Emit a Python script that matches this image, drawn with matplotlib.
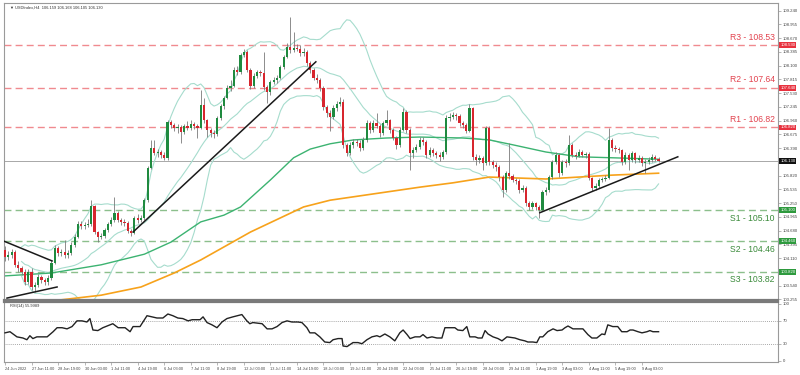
import matplotlib
matplotlib.use("Agg")
import matplotlib.pyplot as plt
import numpy as np
import pandas as pd
from matplotlib.transforms import blended_transform_factory

# ---------------- data ----------------
first_open = 104.28
closes = [104.13,104.17,104.24,103.97,103.90,103.82,103.61,103.82,103.51,103.55,
103.72,103.65,103.61,103.70,104.01,104.32,104.21,104.24,104.17,104.21,
104.38,104.55,104.82,104.78,104.80,104.82,105.19,104.65,104.55,104.57,
104.69,104.82,104.90,105.05,104.90,104.86,104.84,104.67,104.63,104.94,
104.90,104.94,105.31,105.98,106.39,106.29,106.31,106.25,106.19,106.93,
106.87,106.81,106.83,106.73,106.85,106.81,106.89,106.85,106.81,107.29,
106.97,106.77,106.70,106.68,107.02,107.26,107.43,107.64,107.68,108.01,
107.97,108.32,108.38,108.01,107.68,107.89,107.97,107.95,107.66,107.55,
107.76,107.80,107.85,108.07,108.28,108.49,108.43,108.47,108.45,108.36,
108.38,108.16,108.01,107.85,107.80,107.64,107.24,107.12,107.04,107.22,
107.31,107.35,106.46,106.29,106.46,106.52,106.50,106.39,106.56,106.91,
106.77,106.91,106.85,106.70,106.91,106.97,106.77,106.60,106.46,106.77,
107.14,106.77,106.29,106.35,106.41,106.56,106.52,106.25,106.35,106.29,
106.25,106.21,106.31,107.02,107.04,107.08,107.06,106.91,106.87,106.75,
107.22,106.21,106.14,106.19,106.08,106.81,106.10,106.04,106.00,105.79,
105.52,105.87,105.81,105.73,105.71,105.52,105.56,105.25,105.17,105.25,
105.17,105.11,105.48,105.52,105.79,106.10,106.25,105.87,106.10,106.08,
106.46,106.25,106.23,106.31,106.25,106.27,105.77,105.56,105.60,105.73,
105.75,105.77,106.56,106.39,106.37,106.35,106.10,106.25,106.14,106.29,
106.14,106.19,106.08,106.10,106.14,106.21,106.16,106.13]

highs = [104.35,104.25,104.30,104.28,104.05,103.95,103.88,103.88,103.90,103.62,
103.78,103.76,103.70,103.75,104.06,104.38,104.36,104.30,104.48,104.28,
104.45,104.60,104.88,104.88,104.86,104.92,105.31,105.22,104.68,104.64,
104.74,104.86,104.96,105.38,105.08,104.95,104.92,104.88,104.72,104.99,
105.02,105.00,105.36,106.02,106.55,106.55,106.38,106.36,106.30,106.98,
106.98,106.92,106.90,106.88,106.90,106.95,106.98,106.93,106.90,107.60,
107.42,107.00,106.80,106.76,107.06,107.30,107.48,107.70,107.80,108.08,
108.10,108.36,108.45,108.42,108.05,107.94,108.02,108.02,108.38,107.70,
107.80,107.86,107.90,108.12,108.33,108.58,109.11,108.80,108.55,108.52,
108.46,108.42,108.20,108.05,107.92,107.84,107.68,107.28,107.18,107.28,
107.36,107.45,107.40,106.50,106.52,106.58,106.58,106.55,106.62,106.98,
106.95,106.98,107.12,106.90,106.96,107.18,107.00,106.80,106.64,106.82,
107.22,107.18,106.80,106.42,106.48,106.62,106.62,106.56,106.42,106.40,
106.34,106.30,106.36,107.08,107.12,107.14,107.12,107.10,106.95,106.92,
107.30,107.25,106.26,106.25,106.22,106.85,106.84,106.15,106.10,106.04,
105.84,105.92,106.50,105.86,105.78,105.75,105.62,105.60,105.30,105.30,
105.28,105.22,105.52,105.58,105.84,106.15,106.32,106.28,106.15,106.16,
106.67,106.50,106.30,106.38,106.35,106.32,106.30,105.80,105.66,105.78,
105.80,105.84,106.81,106.60,106.46,106.42,106.38,106.30,106.28,106.34,
106.32,106.24,106.22,106.16,106.20,106.26,106.25,106.20]

lows = [104.05,104.08,104.12,103.92,103.82,103.76,103.55,103.57,103.45,103.41,
103.50,103.60,103.55,103.56,103.66,103.98,104.16,104.15,104.12,104.12,
104.18,104.33,104.52,104.72,104.72,104.75,104.78,104.60,104.45,104.50,
104.53,104.66,104.78,104.86,104.85,104.80,104.78,104.62,104.56,104.60,
104.84,104.86,104.90,105.28,105.95,106.24,106.20,106.18,106.14,106.15,
106.80,106.75,106.70,106.50,106.68,106.76,106.77,106.78,106.60,106.78,
106.92,106.62,106.62,106.60,106.64,106.98,107.20,107.40,107.58,107.65,
107.90,107.93,108.28,107.96,107.62,107.64,107.85,107.88,107.60,107.33,
107.50,107.72,107.75,107.82,108.03,108.25,108.36,108.38,108.40,108.30,
108.30,108.10,107.95,107.80,107.74,107.58,107.18,107.04,106.75,107.00,
107.16,107.26,106.40,106.22,106.24,106.40,106.44,106.33,106.35,106.52,
106.70,106.72,106.80,106.62,106.66,106.86,106.70,106.55,106.38,106.42,
106.74,106.70,105.94,106.18,106.30,106.38,106.45,106.18,106.20,106.22,
106.18,106.12,106.16,106.27,106.96,107.00,106.98,106.85,106.80,106.70,
106.72,106.15,106.05,106.08,105.94,106.04,106.05,105.98,105.92,105.70,
105.38,105.48,105.75,105.68,105.64,105.46,105.48,105.20,105.10,105.12,
105.10,104.94,105.08,105.42,105.48,105.75,106.06,105.80,105.84,106.00,
106.04,106.20,106.16,106.20,106.20,106.18,105.72,105.50,105.52,105.56,
105.68,105.70,105.74,106.34,106.30,106.28,106.04,106.06,105.94,106.10,
106.08,106.10,106.02,105.87,106.06,106.10,106.12,106.10]

# moving averages
ma100_i = [0, 14, 29, 42, 50, 59, 66, 71, 80, 87, 92, 98, 105, 115, 125, 138, 146, 153, 163, 173, 183, 197]
ma100_v = [103.74, 103.80, 103.97, 104.19, 104.44, 104.86, 105.00, 105.17, 105.73, 106.19, 106.37,
           106.48, 106.56, 106.60, 106.62, 106.60, 106.56, 106.46, 106.31, 106.21, 106.19, 106.16]
ma200_i = [14, 29, 41, 51, 59, 74, 90, 98, 105, 115, 125, 135, 146, 163, 173, 183, 197]
ma200_v = [103.22, 103.34, 103.51, 103.80, 104.07, 104.65, 105.17, 105.31, 105.38, 105.48, 105.58,
           105.67, 105.79, 105.75, 105.79, 105.83, 105.87]

# RSI
rsi_x = [0,1.5,3.6,5.4,6.6,7.5,8.4,9.6,12.7,14.5,15.7,17.2,18.7,20.2,21.7,23.2,24.7,25.6,26.5,28,
29.5,31.6,32.5,34.1,36.2,37.7,38.6,40.7,42.8,44.3,45.8,47.6,49.1,50.6,52.1,53.6,55.2,56.4,58.8,59.7,
60.9,62.4,63.9,65.4,66.9,68.7,71.4,72.9,73.8,74.7,77.5,79,80.5,82,83.5,85,86.5,88.3,89.5,91,
91.9,93.4,94.9,96.4,97.9,98.9,100.4,101.6,101.9,103.1,104.9,106.4,107.6,109.1,110.6,112.1,113,114.5,116,117.5,
119,120,121.2,122.1,123.6,125.1,126,127.2,128.7,130.2,131.7,132.6,134.1,135.6,136.5,138,139.2,140.1,141.7,142.6,
143.8,144.7,145.6,147.1,148.6,149.8,151.3,153.7,155.2,156.7,157.6,159.1,160.3,161.2,162.1,163.6,165.2,166.4,167.9,168.8,
169.7,171.2,172.7,174.2,175.7,176.9,178.4,179.9,180.8,181.7,183.2,184.7,185.9,187.5,188.4,189.3,190.8,192,193.5,194.4,
195.3,197]
rsi_v = [49,51,42,40,37,44,39,42,42,51,58,58,56,60,70,70,68,74,54,53,
58,63,65,58,58,51,60,60,79,77,75,75,82,79,75,74,70,72,72,77,
67,63,58,68,74,77,81,70,65,67,65,56,56,60,67,70,68,68,67,58,
49,49,42,33,32,37,39,39,26,25,32,32,30,37,42,44,42,47,42,35,
49,54,46,39,42,42,46,40,42,40,40,58,58,58,54,53,60,42,42,40,
40,53,47,42,39,35,42,40,37,35,33,33,32,42,42,51,56,53,54,58,
61,56,56,56,46,40,40,47,46,63,60,60,51,51,54,54,51,49,51,53,
51,51]

# horizontal levels
level_names = ["R3", "R2", "R1", "S1", "S2", "S3"]
level_values = [108.53, 107.64, 106.82, 105.10, 104.46, 103.82]

# drawn trend lines (start index, start price, end index, end price)
tl_x0 = [-0.3, 0.6, 38.6, 161.2]
tl_y0 = [104.46, 103.28, 104.65, 105.05]
tl_x1 = [14.2, 15.7, 93.7, 202.8]
tl_y1 = [104.05, 103.51, 108.18, 106.21]

price_ticks = [103.255, 103.540, 103.825, 104.110, 104.395, 104.680, 104.965, 105.250, 105.535,
               105.820, 106.105, 106.390, 106.675, 106.960, 107.245, 107.530, 107.815, 108.100,
               108.385, 108.670, 108.955, 109.240]
x_labels = ["24 Jun 2022", "27 Jun 11:00", "28 Jun 19:00", "30 Jun 03:00", "1 Jul 11:00",
            "4 Jul 19:00", "6 Jul 03:00", "7 Jul 11:00", "8 Jul 19:00", "12 Jul 03:00",
            "13 Jul 11:00", "14 Jul 19:00", "18 Jul 03:00", "19 Jul 11:00", "20 Jul 19:00",
            "22 Jul 03:00", "25 Jul 11:00", "26 Jul 19:00", "28 Jul 03:00", "29 Jul 11:00",
            "1 Aug 19:00", "3 Aug 03:00", "4 Aug 11:00", "5 Aug 19:00", "9 Aug 03:00"]
x_label_step = 8

# ---------------- figure ----------------
plt.rcParams['font.family'] = ['Liberation Sans', 'DejaVu Sans']
W, H = 800, 375
fig = plt.figure(figsize=(W / 100, H / 100), dpi=100)
fig.patch.set_facecolor('white')

def rect(l, t, r, b):
    return [l / W, 1 - b / H, (r - l) / W, (b - t) / H]

ax = fig.add_axes(rect(4, 3, 778, 300))
axr = fig.add_axes(rect(4, 302, 778, 362), sharex=ax)

n = len(closes)
idx = np.arange(n)
c = np.array(closes)
o = np.concatenate([[first_open], c[:-1]])
h = np.maximum(np.array(highs), np.maximum(o, c))
l = np.minimum(np.array(lows), np.minimum(o, c))

XMIN, XMAX = -0.3, 233.0
YMIN, YMAX = 103.24, 109.40
ax.set_xlim(XMIN, XMAX)
ax.set_ylim(YMIN, YMAX)

# Bollinger bands computed from closes
s = pd.Series(c)
mid = s.rolling(20, min_periods=6).mean()
sd = s.rolling(20, min_periods=6).std(ddof=0)
bb_col = '#a6dccd'
for band in (mid + 2 * sd, mid, mid - 2 * sd):
    ax.plot(idx, band, color=bb_col, lw=0.8, zorder=2)

ax.plot(ma100_i, ma100_v, color='#3cb371', lw=1.0, zorder=2)
ax.plot(ma200_i, ma200_v, color='#f7a21b', lw=1.2, zorder=2)

# levels
trans_r = blended_transform_factory(ax.transAxes, ax.transData)
for name, v in zip(level_names, level_values):
    is_r = name.startswith('R')
    lc = '#f08a8f' if is_r else '#8cbf8c'
    tc = '#e2434f' if is_r else '#3a8a3a'
    ax.axhline(v, color=lc, lw=1.0, dashes=(5, 3), zorder=1)
    ax.text(0.996, v + (0.07 if is_r else -0.07), f"{name} - {v:.2f}",
            transform=trans_r,
            ha='right', va='bottom' if is_r else 'top', fontsize=6.2, color=tc, zorder=5)

# current price line
last = closes[-1]
ax.axhline(last, color='#a8a8a8', lw=0.7, zorder=1)

# candles
up = c >= o
col = np.where(up, '#1f8a3f', '#d7262e')
ax.vlines(idx, l, h, color='#7a7a7a', lw=0.6, zorder=3)
body_h = np.maximum(np.abs(c - o), 0.012)
ax.bar(idx, body_h, bottom=np.minimum(o, c), width=0.66, color=col, lw=0, zorder=4)

# trend lines
for x0, y0, x1, y1 in zip(tl_x0, tl_y0, tl_x1, tl_y1):
    ax.plot([x0, x1], [y0, y1], color='#1a1a1a', lw=1.1, zorder=5)

# axes styling
for a in (ax, axr):
    a.set_facecolor('white')
    for sp in a.spines.values():
        sp.set_color('#9a9a9a')
        sp.set_linewidth(0.8)
ax.spines['bottom'].set_linewidth(1.6)
ax.spines['bottom'].set_color('#7a7a7a')
axr.spines['top'].set_linewidth(1.6)
axr.spines['top'].set_color('#7a7a7a')

TICK_FS = 3.1
box_values = level_values + [last]
ax.yaxis.tick_right()
ax.set_yticks(price_ticks)
ax.set_yticklabels([("" if min(abs(t - b) for b in box_values) < 0.04 else f"{t:.3f}")
                    for t in price_ticks])
ax.tick_params(axis='y', labelsize=TICK_FS, length=2, width=0.5, colors='#9a9a9a',
               labelcolor='#444444', pad=1.5)
ax.tick_params(axis='x', bottom=False, labelbottom=False)

for name, v in zip(level_names, level_values):
    bg = '#e8323f' if name.startswith('R') else '#2e9a3e'
    ax.text(1.003, v, f"{v:.3f}", transform=trans_r, ha='left', va='center', fontsize=TICK_FS,
            color='white', bbox=dict(boxstyle='square,pad=0.2', fc=bg, ec='none'),
            zorder=6, clip_on=False)
ax.text(1.003, last, f"{last:.3f}", transform=trans_r, ha='left', va='center', fontsize=TICK_FS,
        color='white', bbox=dict(boxstyle='square,pad=0.2', fc='#111111', ec='none'),
        zorder=6, clip_on=False)

ax.text(0.008, 0.99, "\u25BC USDIndex,H4  106.159 106.168 106.105 106.130", transform=ax.transAxes,
        ha='left', va='top', fontsize=2.9, color='#333333')

# RSI panel
axr.set_ylim(-2, 103)
axr.plot(rsi_x, rsi_v, color='#222222', lw=1.0, zorder=3)
for lv in (70, 30):
    axr.axhline(lv, color='#8a8a8a', lw=0.6, ls=(0, (1, 1.5)), zorder=1)
axr.yaxis.tick_right()
axr.set_yticks([0, 30, 70, 100])
axr.tick_params(axis='y', labelsize=TICK_FS, length=2, width=0.5, colors='#9a9a9a',
                labelcolor='#444444', pad=1.5)
axr.text(0.008, 0.97, "RSI(14) 55.9989", transform=axr.transAxes, ha='left', va='top',
         fontsize=2.9, color='#333333')

xt = [i * x_label_step for i in range(len(x_labels))]
axr.set_xticks(xt)
axr.set_xticklabels(x_labels, ha='left')
axr.tick_params(axis='x', labelsize=2.8, length=2, width=0.5, colors='#9a9a9a',
                labelcolor='#444444', pad=1.5)
axr.set_xlim(XMIN, XMAX)

fig.savefig('out.png', dpi=100, facecolor='white')
